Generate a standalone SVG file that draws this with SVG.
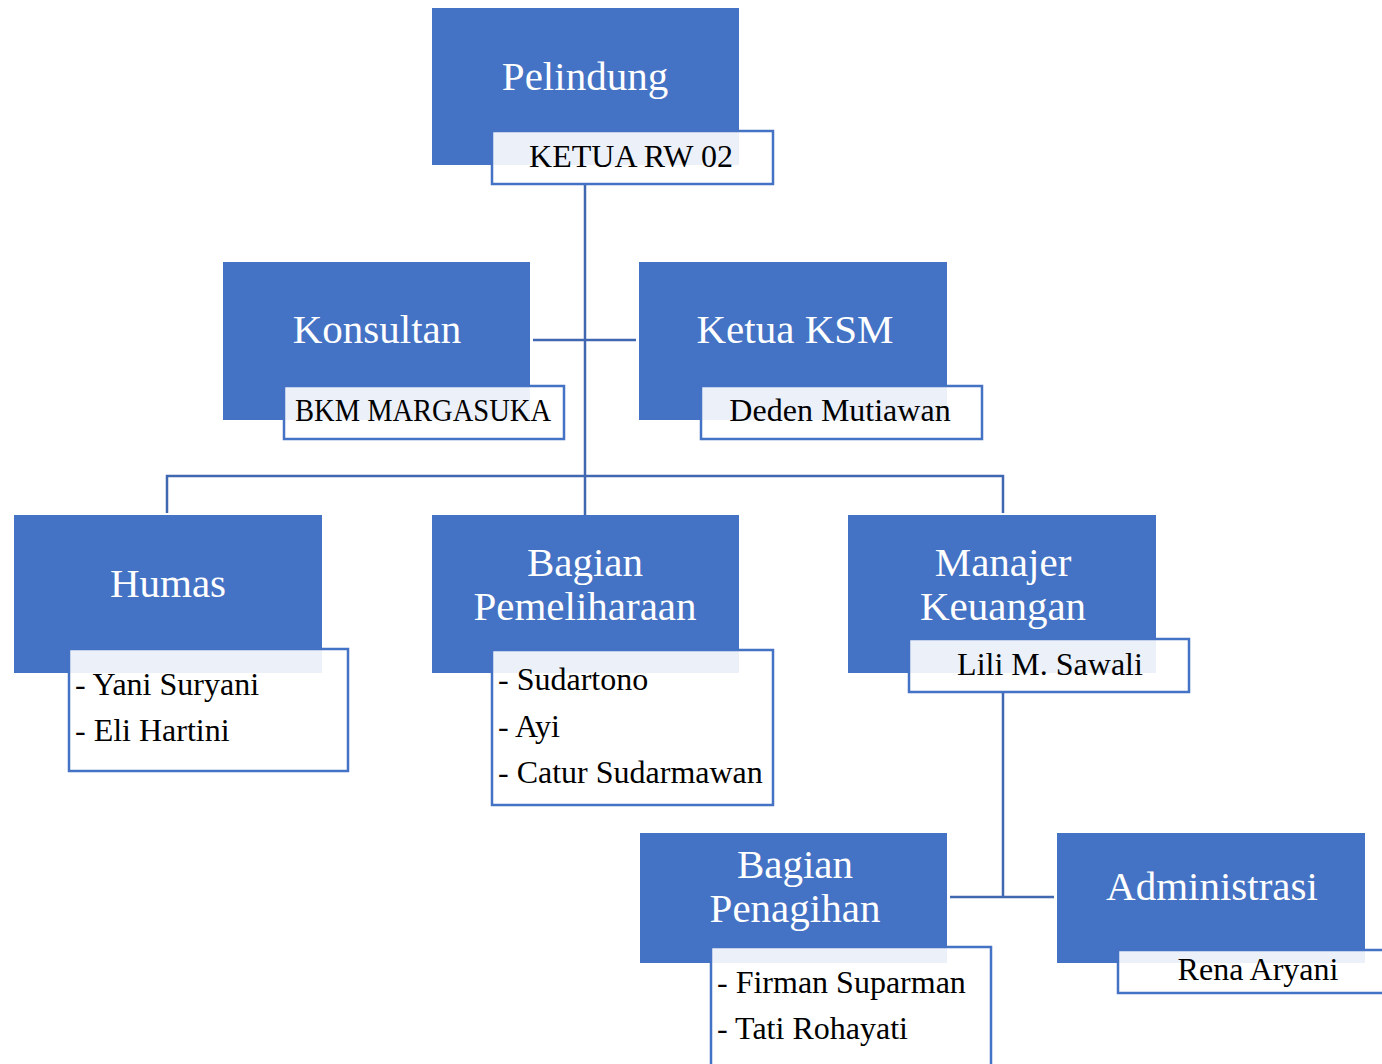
<svg xmlns="http://www.w3.org/2000/svg" width="1382" height="1064" viewBox="0 0 1382 1064">
<style>
.box{fill:#4472C4;}
.lab{fill:#FFFFFF;fill-opacity:0.9;stroke:#4472C4;stroke-width:2.5;}
.title{font-family:"Liberation Serif","Times New Roman",serif;font-size:41px;fill:#FFFFFF;text-anchor:middle;}
.name{font-family:"Liberation Serif","Times New Roman",serif;font-size:32px;fill:#000000;}
.c{text-anchor:middle;}
.conn{stroke:#4068B0;stroke-width:2.5;fill:none;}
</style>
<rect width="1382" height="1064" fill="#FFFFFF"/>
<g id="connectors">
<path class="conn" d="M585 184 V515"/>
<path class="conn" d="M533 340 H636"/>
<path class="conn" d="M167 513 V476 H1003 V513"/>
<path class="conn" d="M1003 692 V897"/>
<path class="conn" d="M950 897 H1054"/>
</g>
<g id="pelindung">
<rect class="box" x="432" y="8" width="307" height="157"/>
<text class="title" x="585" y="90">Pelindung</text>
<rect class="lab" x="492" y="131" width="281" height="53"/>
<text class="name c" x="631" y="167">KETUA RW 02</text>
</g>
<g id="konsultan">
<rect class="box" x="223" y="262" width="307" height="158"/>
<text class="title" x="377" y="343">Konsultan</text>
<rect class="lab" x="284" y="386" width="280" height="53"/>
<text class="name" x="295" y="421" textLength="256" lengthAdjust="spacingAndGlyphs">BKM MARGASUKA</text>
</g>
<g id="ketua-ksm">
<rect class="box" x="639" y="262" width="308" height="158"/>
<text class="title" x="795" y="343">Ketua KSM</text>
<rect class="lab" x="701" y="386" width="281" height="53"/>
<text class="name c" x="840" y="421">Deden Mutiawan</text>
</g>
<g id="humas">
<rect class="box" x="14" y="515" width="308" height="158"/>
<text class="title" x="168" y="597">Humas</text>
<rect class="lab" x="69" y="649" width="279" height="122"/>
<text class="name" x="75" y="695">- Yani Suryani</text>
<text class="name" x="75" y="741">- Eli Hartini</text>
</g>
<g id="bagian-pemeliharaan">
<rect class="box" x="432" y="515" width="307" height="158"/>
<text class="title" x="585" y="576">Bagian</text>
<text class="title" x="585" y="620">Pemeliharaan</text>
<rect class="lab" x="492" y="650" width="281" height="155"/>
<text class="name" x="498" y="690">- Sudartono</text>
<text class="name" x="498" y="737">- Ayi</text>
<text class="name" x="498" y="783">- Catur Sudarmawan</text>
</g>
<g id="manajer-keuangan">
<rect class="box" x="848" y="515" width="308" height="158"/>
<text class="title" x="1003" y="576">Manajer</text>
<text class="title" x="1003" y="620">Keuangan</text>
<rect class="lab" x="909" y="639" width="280" height="53"/>
<text class="name c" x="1050" y="675">Lili M. Sawali</text>
</g>
<g id="bagian-penagihan">
<rect class="box" x="640" y="833" width="307" height="130"/>
<text class="title" x="795" y="878">Bagian</text>
<text class="title" x="795" y="922">Penagihan</text>
<rect class="lab" x="711" y="947" width="280" height="130"/>
<text class="name" x="717" y="993">- Firman Suparman</text>
<text class="name" x="717" y="1039">- Tati Rohayati</text>
</g>
<g id="administrasi">
<rect class="box" x="1057" y="833" width="308" height="130"/>
<text class="title" x="1212" y="900">Administrasi</text>
<rect class="lab" x="1118" y="950" width="280" height="43"/>
<text class="name c" x="1258" y="980">Rena Aryani</text>
</g>
</svg>
